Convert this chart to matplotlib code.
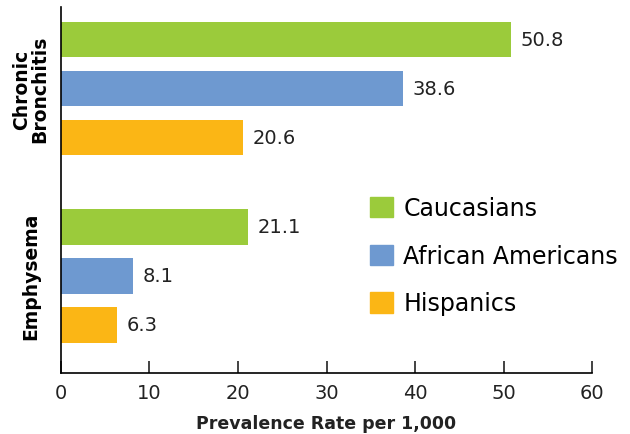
import numpy as np
import matplotlib.pyplot as plt
from matplotlib.patches import Patch

diseases = ["Chronic\nBronchitis", "Emphysema"]
groups = ["Caucasians", "African Americans", "Hispanics"]
colors = ["#9BCB3B", "#6E99D0", "#FBB615"]
bronchitis = [50.8, 38.6, 20.6]
emphysema = [21.1, 8.1, 6.3]

plt.rcParams["font.family"] = ["DejaVu Sans"]

fig = plt.figure(figsize=(6.3, 4.35), dpi=100)
ax = fig.add_axes([0.0968, 0.1402, 0.843, 0.8414])

group_start = [0.0, 3.82]
values = [bronchitis, emphysema]
for g, vals in enumerate(values):
    for i, v in enumerate(vals):
        y = group_start[g] + i
        ax.barh(y, v, height=0.73, color=colors[i])
        ax.annotate(f"{v}", (v, y), xytext=(7, 0), textcoords="offset points",
                    va="center", ha="left", fontsize=14, color="#222222")

ax.set_xlim(0, 60)
ax.set_ylim(6.806, -0.663)
ax.set_xticks(np.arange(0, 61, 10))
ax.tick_params(axis="x", direction="in", length=9, width=1.2, labelsize=14,
               pad=7, colors="#222222")
ax.set_yticks([group_start[0] + 1, group_start[1] + 1])
ax.set_yticklabels(diseases, rotation=90, va="center", ha="center",
                   fontsize=13.5, fontweight="bold", linespacing=0.95)
ax.tick_params(axis="y", length=0, pad=22)
ax.spines["top"].set_visible(False)
ax.spines["right"].set_visible(False)
ax.spines["left"].set_linewidth(1.2)
ax.spines["bottom"].set_linewidth(1.2)
ax.set_xlabel("Prevalence Rate per 1,000", fontsize=12.5, fontweight="bold",
              labelpad=9, color="#222222")

handles = [Patch(color=c) for c in colors]
ax.legend(handles, groups, loc="upper left", bbox_to_anchor=(0.582, 0.483),
          frameon=False, fontsize=17, handlelength=0.95, handleheight=0.95,
          handletextpad=0.45, labelspacing=1.0, borderaxespad=0, borderpad=0)

fig.savefig("out.png", dpi=100)
